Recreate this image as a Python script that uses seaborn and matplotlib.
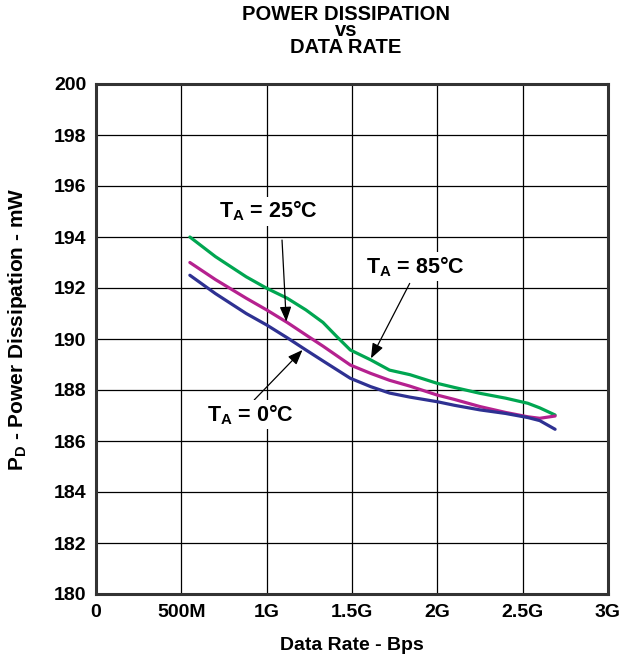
import pandas as pd
import matplotlib
matplotlib.use("Agg")
import matplotlib.pyplot as plt
import seaborn as sns

# data rate in Gbps (shared x for all three curves)
rate = [0.55, 0.70, 0.88, 1.00, 1.12, 1.23, 1.33, 1.41, 1.49, 1.61,
        1.72, 1.84, 2.00, 2.10, 2.25, 2.40, 2.53, 2.60, 2.69]

# power dissipation in mW
pd_85c = [194.00, 193.23, 192.44, 191.99, 191.60, 191.14, 190.65, 190.10, 189.57, 189.18,
          188.78, 188.60, 188.26, 188.10, 187.87, 187.68, 187.48, 187.30, 187.02]
pd_25c = [193.00, 192.33, 191.60, 191.14, 190.65, 190.16, 189.72, 189.35, 188.98, 188.65,
          188.38, 188.15, 187.80, 187.63, 187.35, 187.12, 186.95, 186.89, 186.98]
pd_0c = [192.50, 191.78, 191.00, 190.55, 190.05, 189.57, 189.14, 188.80, 188.46, 188.13,
         187.88, 187.72, 187.54, 187.40, 187.22, 187.08, 186.92, 186.80, 186.46]

xticks = [0, 0.5, 1.0, 1.5, 2.0, 2.5, 3.0]
xtick_labels = ["0", "500M", "1G", "1.5G", "2G", "2.5G", "3G"]
yticks = list(range(180, 201, 2))

colors = {"85C": "#00a651", "25C": "#b5218f", "0C": "#2e3192"}

df = pd.concat([
    pd.DataFrame({"rate": rate, "power": pd_85c, "temp": "85C"}),
    pd.DataFrame({"rate": rate, "power": pd_25c, "temp": "25C"}),
    pd.DataFrame({"rate": rate, "power": pd_0c, "temp": "0C"}),
])

sns.set_style("white")
plt.rcParams["font.family"] = ["Liberation Sans", "DejaVu Sans"]
plt.rcParams["font.weight"] = "bold"
plt.rcParams["text.color"] = "black"
plt.rcParams["axes.labelcolor"] = "black"
plt.rcParams["xtick.color"] = "black"
plt.rcParams["ytick.color"] = "black"
plt.rcParams["mathtext.fontset"] = "custom"
plt.rcParams["mathtext.rm"] = "Liberation Sans:bold"
plt.rcParams["mathtext.bf"] = "Liberation Sans:bold"
plt.rcParams["mathtext.it"] = "Liberation Sans:bold"

fig = plt.figure(figsize=(6.34, 6.64), dpi=100)
ax = fig.add_axes([96 / 634, 70 / 664, 512 / 634, 510 / 664])

sns.lineplot(data=df, x="rate", y="power", hue="temp", palette=colors,
             linewidth=2.3, legend=False, ax=ax, sort=False)

ax.set_xlim(0, 3)
ax.set_ylim(180, 200)
ax.set_xticks(xticks)
ax.set_xticklabels(xtick_labels)
ax.set_yticks(yticks)
ax.tick_params(length=0, labelsize=14, pad=7)
for lab in ax.get_xticklabels() + ax.get_yticklabels():
    lab.set_fontweight("bold")

ax.grid(True, color="black", linewidth=0.9)
for s in ax.spines.values():
    s.set_color("#333333")
    s.set_linewidth(2.2)

ax.set_xlabel("Data Rate - Bps", fontsize=14, fontweight="bold", labelpad=12)
ax.set_ylabel(r"P$_\mathrm{D}$ - Power Dissipation - mW", fontsize=15,
              fontweight="bold")
ax.yaxis.set_label_coords(-0.13, 0.52)

fig.text(346 / 634, 1 - 5 / 664, "POWER DISSIPATION\nvs\nDATA RATE",
         fontsize=14.5, fontweight="bold", ha="center", va="top",
         linespacing=0.82, multialignment="center")

arrow = dict(arrowstyle="-|>,head_length=0.9,head_width=0.35", color="black",
             lw=0.9, shrinkA=0, shrinkB=0)
ax.annotate("", xy=(1.115, 190.68), xytext=(1.09, 193.88), arrowprops=arrow)
ax.annotate("", xy=(1.611, 189.24), xytext=(1.838, 192.18), arrowprops=arrow)
ax.annotate("", xy=(1.21, 189.57), xytext=(0.927, 187.61), arrowprops=arrow)

lab_kw = dict(fontsize=15.5, fontweight="bold", ha="left", va="baseline",
              bbox=dict(facecolor="white", edgecolor="none", pad=1.5))
ax.text(0.72, 194.75, r"T$_\mathrm{A}$ = 25°C", **lab_kw)
ax.text(1.584, 192.59, r"T$_\mathrm{A}$ = 85°C", **lab_kw)
ax.text(0.651, 186.76, r"T$_\mathrm{A}$ = 0°C", **lab_kw)

fig.savefig("out.png", dpi=100)
